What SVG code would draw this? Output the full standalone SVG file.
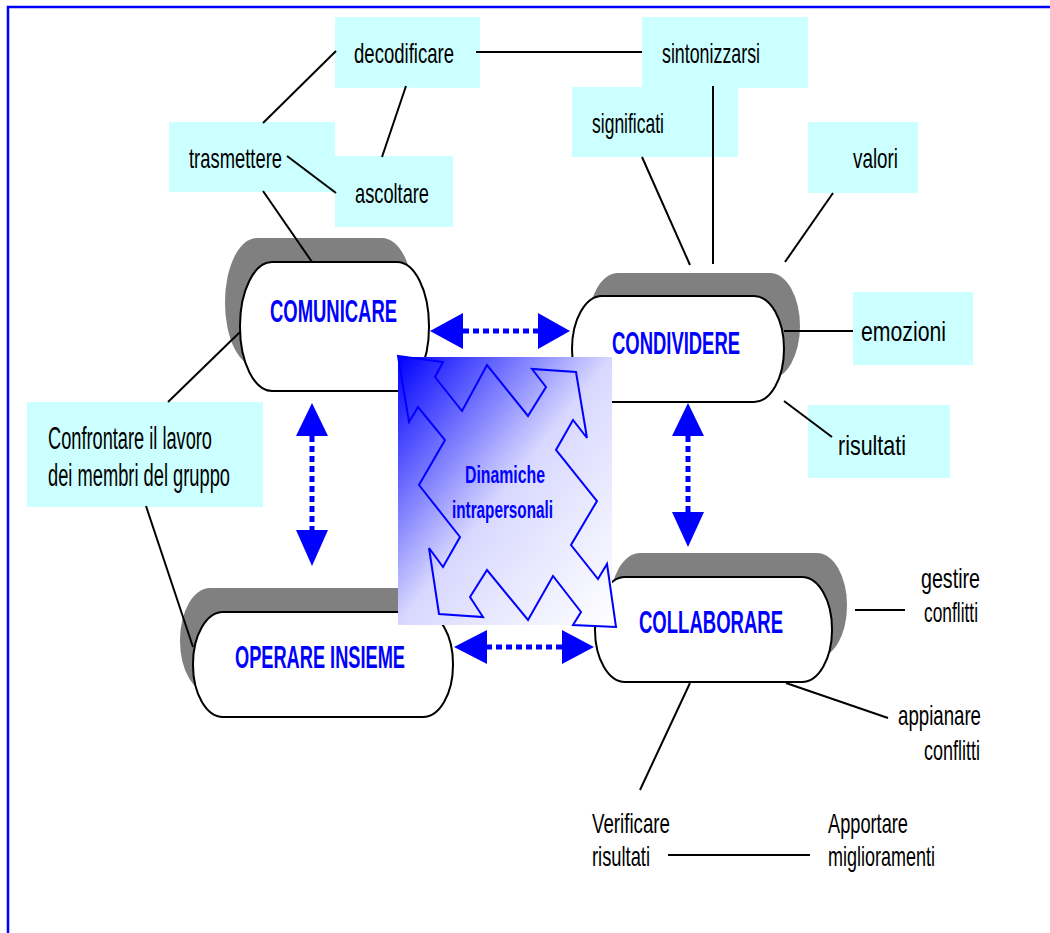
<svg xmlns="http://www.w3.org/2000/svg" width="1050" height="933" viewBox="0 0 1050 933">
<defs>
<linearGradient id="g" x1="0" y1="0" x2="1" y2="1">
<stop offset="0" stop-color="#0000ff"/>
<stop offset="0.3" stop-color="#8080ff"/>
<stop offset="0.5" stop-color="#d8d8ff"/>
<stop offset="1" stop-color="#ffffff"/>
</linearGradient>
<style>
.box{fill:#ccffff}
.lbl{font-family:"Liberation Sans",Arial,sans-serif;font-size:28px;fill:#000}
.big{font-size:31px}
.ntx{font-family:"Liberation Sans",Arial,sans-serif;font-size:32px;font-weight:bold;fill:#0000ff}
.sh{fill:#808080}
.nd{fill:#fff;stroke:#000;stroke-width:2}
.ln{stroke:#000;stroke-width:2;fill:none}
.dl{stroke:#0000ff;stroke-width:5;stroke-dasharray:6 4;fill:none}
.ah{fill:#0000ff}
</style>
</defs>
<rect width="1050" height="933" fill="#fff"/>
<path d="M8 933 V7 H1050" fill="none" stroke="#0000ff" stroke-width="2.5"/>

<g id="box-decodificare"><rect class="box" x="335" y="17" width="145" height="71"/><text class="lbl" x="354" y="63" textLength="100" lengthAdjust="spacingAndGlyphs">decodificare</text></g>
<g id="box-sintonizzarsi"><rect class="box" x="642" y="17" width="166" height="71"/><text class="lbl" x="662" y="63" textLength="98" lengthAdjust="spacingAndGlyphs">sintonizzarsi</text></g>
<g id="box-significati"><rect class="box" x="572" y="87" width="166" height="70"/><text class="lbl" x="592" y="133" textLength="72" lengthAdjust="spacingAndGlyphs">significati</text></g>
<g id="box-trasmettere"><rect class="box" x="169" y="122" width="166" height="70"/><text class="lbl" x="189" y="168" textLength="93" lengthAdjust="spacingAndGlyphs">trasmettere</text></g>
<g id="box-ascoltare"><rect class="box" x="335" y="156" width="118" height="71"/><text class="lbl" x="355" y="203" textLength="74" lengthAdjust="spacingAndGlyphs">ascoltare</text></g>
<g id="box-valori"><rect class="box" x="808" y="122" width="110" height="71"/><text class="lbl" x="853" y="168" textLength="45" lengthAdjust="spacingAndGlyphs">valori</text></g>
<g id="box-emozioni"><rect class="box" x="853" y="292" width="120" height="73"/><text class="lbl" x="861" y="341" textLength="85" lengthAdjust="spacingAndGlyphs">emozioni</text></g>
<g id="box-risultati"><rect class="box" x="808" y="405" width="142" height="73"/><text class="lbl" x="838" y="455" textLength="68" lengthAdjust="spacingAndGlyphs">risultati</text></g>
<g id="box-confrontare"><rect class="box" x="27" y="402" width="236" height="105"/><text class="lbl big" x="48" y="449" textLength="164" lengthAdjust="spacingAndGlyphs">Confrontare il lavoro</text><text class="lbl big" x="48" y="486" textLength="182" lengthAdjust="spacingAndGlyphs">dei membri del gruppo</text></g>
<g id="lbl-gestire"><text class="lbl" x="921" y="588" textLength="59" lengthAdjust="spacingAndGlyphs">gestire</text><text class="lbl" x="924" y="622" textLength="54" lengthAdjust="spacingAndGlyphs">conflitti</text></g>
<g id="lbl-appianare"><text class="lbl" x="898" y="725" textLength="83" lengthAdjust="spacingAndGlyphs">appianare</text><text class="lbl" x="924" y="760" textLength="56" lengthAdjust="spacingAndGlyphs">conflitti</text></g>
<g id="lbl-verificare"><text class="lbl" x="592" y="833" textLength="78" lengthAdjust="spacingAndGlyphs">Verificare</text><text class="lbl" x="592" y="866" textLength="58" lengthAdjust="spacingAndGlyphs">risultati</text></g>
<g id="lbl-apportare"><text class="lbl" x="828" y="833" textLength="80" lengthAdjust="spacingAndGlyphs">Apportare</text><text class="lbl" x="828" y="866" textLength="107" lengthAdjust="spacingAndGlyphs">miglioramenti</text></g>

<g id="node-comunicare"><rect class="sh" x="225" y="238" width="189" height="129" rx="32" ry="64"/><rect class="nd" x="240" y="262" width="189" height="129" rx="32" ry="64"/><text class="ntx" x="270" y="322" textLength="127" lengthAdjust="spacingAndGlyphs">COMUNICARE</text></g>
<g id="node-condividere"><rect class="sh" x="588" y="273" width="212" height="106" rx="30" ry="53"/><rect class="nd" x="572" y="296" width="212" height="106" rx="30" ry="53"/><text class="ntx" x="612" y="354" textLength="128" lengthAdjust="spacingAndGlyphs">CONDIVIDERE</text></g>
<g id="node-operare"><rect class="sh" x="180" y="588" width="260" height="105" rx="30" ry="52"/><rect class="nd" x="193" y="612" width="260" height="105" rx="30" ry="52"/><text class="ntx" x="235" y="668" textLength="170" lengthAdjust="spacingAndGlyphs">OPERARE INSIEME</text></g>
<g id="node-collaborare"><rect class="sh" x="610" y="553" width="237" height="105" rx="30" ry="52"/><rect class="nd" x="595" y="577" width="237" height="105" rx="30" ry="52"/><text class="ntx" x="639" y="633" textLength="144" lengthAdjust="spacingAndGlyphs">COLLABORARE</text></g>

<g id="connectors">
<line class="ln" x1="336" y1="51" x2="263" y2="123"/>
<line class="ln" x1="406" y1="86" x2="382" y2="157"/>
<line class="ln" x1="287" y1="156" x2="336" y2="193"/>
<line class="ln" x1="263" y1="191" x2="312" y2="262"/>
<line class="ln" x1="476" y1="52" x2="642" y2="52"/>
<line class="ln" x1="713" y1="86" x2="713" y2="264"/>
<line class="ln" x1="642" y1="157" x2="690" y2="265"/>
<line class="ln" x1="833" y1="193" x2="785" y2="262"/>
<line class="ln" x1="784" y1="331" x2="853" y2="331"/>
<line class="ln" x1="784" y1="401" x2="832" y2="437"/>
<line class="ln" x1="168" y1="402" x2="240" y2="332"/>
<line class="ln" x1="146" y1="506" x2="193" y2="647"/>
<line class="ln" x1="855" y1="610" x2="905" y2="610"/>
<line class="ln" x1="786" y1="683" x2="888" y2="718"/>
<line class="ln" x1="690" y1="683" x2="640" y2="790"/>
<line class="ln" x1="668" y1="855" x2="810" y2="855"/>
</g>

<g id="node-dinamiche">
<rect x="398" y="357" width="214" height="268" fill="url(#g)"/>
<path d="M398 356 L443 362 L435 377 L462 411 L487 365 L528 416 L546 387 L532 369 L576 372 L587 438 L573 420 L556 450 L597 501 L571 545 L598 579 L607 564 L616 627 L573 625 L581 612 L553 576 L528 620 L487 570 L470 597 L483 617 L439 614 L429 548 L443 567 L460 537 L419 485 L445 440 L418 407 L409 422 Z" fill="none" stroke="#0000ff" stroke-width="2"/>
<text class="ntx" x="465" y="483" style="font-size:24px" textLength="80" lengthAdjust="spacingAndGlyphs">Dinamiche</text>
<text class="ntx" x="452" y="518" style="font-size:24px" textLength="101" lengthAdjust="spacingAndGlyphs">intrapersonali</text>
</g>

<g id="arrows">
<line class="dl" x1="463" y1="331" x2="540" y2="331"/>
<polygon class="ah" points="430,331 463,313 463,349"/>
<polygon class="ah" points="570,331 538,313 538,349"/>
<line class="dl" x1="312" y1="436" x2="312" y2="530"/>
<polygon class="ah" points="312,403 296,436 328,436"/>
<polygon class="ah" points="312,566 296,530 328,530"/>
<line class="dl" x1="688" y1="436" x2="688" y2="513"/>
<polygon class="ah" points="688,403 672,436 704,436"/>
<polygon class="ah" points="688,547 672,512 704,512"/>
<line class="dl" x1="486" y1="647" x2="563" y2="647"/>
<polygon class="ah" points="454,647 487,630 487,664"/>
<polygon class="ah" points="594,647 562,630 562,664"/>
</g>
</svg>
